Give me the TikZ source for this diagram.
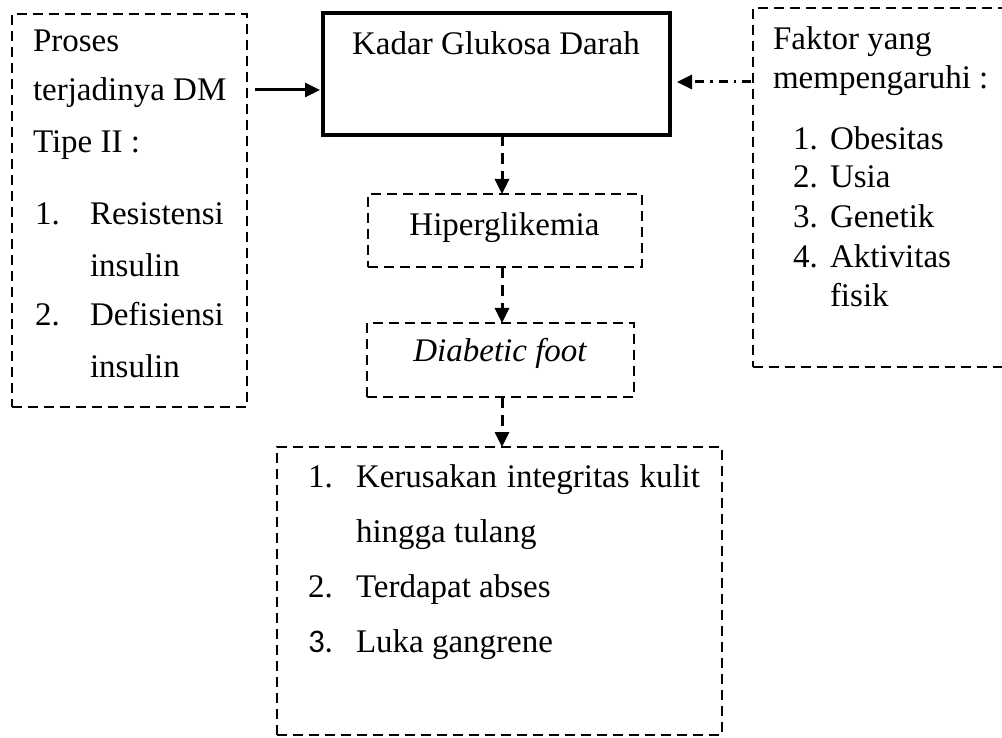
\documentclass[tikz,border=0pt]{standalone}
\usepackage{fontspec}
\setmainfont{Liberation Serif}
\newfontfamily\calibrifont{Carlito}
\usetikzlibrary{arrows.meta}
\begin{document}
\begin{tikzpicture}[x=1pt,y=-1pt,
 every node/.style={font=\fontsize{33}{40}\selectfont, inner sep=0pt, outer sep=0pt},
 dbox/.style={draw, line width=2.6pt, dash pattern=on 10pt off 6pt},
 sbox/.style={draw, line width=4pt},
 txt/.style={anchor=base west},
 ctxt/.style={anchor=base},
 arr/.style={line width=3pt, -{Triangle[length=15pt,width=14pt]}},
 darr/.style={arr, dash pattern=on 11pt off 7pt},
 ddarr/.style={arr, dash pattern=on 9pt off 6pt on 2.5pt off 6pt}]
\useasboundingbox (0,0) rectangle (1002,738);
% boxes
\node[dbox, minimum width=235pt, minimum height=393pt, anchor=north west] (procbox) at (12,14) {};
\node[sbox, minimum width=347pt, minimum height=122pt, anchor=north west] (kadar) at (323,13) {};
\node[dbox, minimum width=300pt, minimum height=359pt, anchor=north west] (faktor) at (753,8) {};
\node[dbox, minimum width=274pt, minimum height=73pt, anchor=north west] (hip) at (368,194) {};
\node[dbox, minimum width=267pt, minimum height=74pt, anchor=north west] (dfoot) at (367,323) {};
\node[dbox, minimum width=445pt, minimum height=288pt, anchor=north west] (dampak) at (277,447) {};
% labels
\node[ctxt] (kadarlbl) at (496,55) {Kadar Glukosa Darah};
\node[ctxt] (hiplbl) at (504.5,236) {Hiperglikemia};
\node[ctxt] (dfootlbl) at (500,361) {\itshape Diabetic foot};
% left box text
\node[txt] (p1) at (33,52) {Proses};
\node[txt] (p2) at (33,101) {terjadinya DM};
\node[txt] (p3) at (33,153) {Tipe II :};
\node[txt] (p4n) at (35,225) {1.};
\node[txt] (p4) at (90,225) {Resistensi};
\node[txt] (p5) at (90,277) {insulin};
\node[txt] (p6n) at (35,325) {2.};
\node[txt] (p6) at (90,325) {Defisiensi};
\node[txt] (p7) at (90,377) {insulin};
% right box text
\node[txt] (f1) at (773,50) {Faktor yang};
\node[txt] (f2) at (773,89) {mempengaruhi :};
\node[txt] (f3n) at (793,150) {1.};
\node[txt] (f3) at (830,150) {Obesitas};
\node[txt] (f4n) at (793,188) {2.};
\node[txt] (f4) at (830,188) {Usia};
\node[txt] (f5n) at (793,228) {3.};
\node[txt] (f5) at (830,228) {Genetik};
\node[txt] (f6n) at (793,268) {4.};
\node[txt] (f6) at (830,268) {Aktivitas};
\node[txt] (f7) at (830,307) {fisik};
% bottom box text
\node[txt] (d1n) at (308,487) {1.};
\node[txt] (d1) at (356,487) {\makebox[344pt][s]{Kerusakan integritas kulit}};
\node[txt] (d2) at (356,542) {hingga tulang};
\node[txt] (d3n) at (308,597) {2.};
\node[txt] (d3) at (356,597) {Terdapat abses};
\node[txt] (d4n) at (308,652) {\calibrifont 3.};
\node[txt] (d4) at (356,652) {Luka gangrene};
% connectors
\coordinate (ax) at (502,0);
\coordinate (a1s) at (255,90);
\coordinate (a2s) at (751,82);
\draw[arr, shorten >=3pt] (a1s) -- (kadar.west |- a1s);
\draw[ddarr, shorten >=7pt] (a2s) -- (kadar.east |- a2s);
\draw[darr] (kadar.south -| ax) -- (hip.north -| ax);
\draw[darr] (hip.south -| ax) -- (dfoot.north -| ax);
\draw[darr] (dfoot.south -| ax) -- (dampak.north -| ax);
\end{tikzpicture}
\end{document}
